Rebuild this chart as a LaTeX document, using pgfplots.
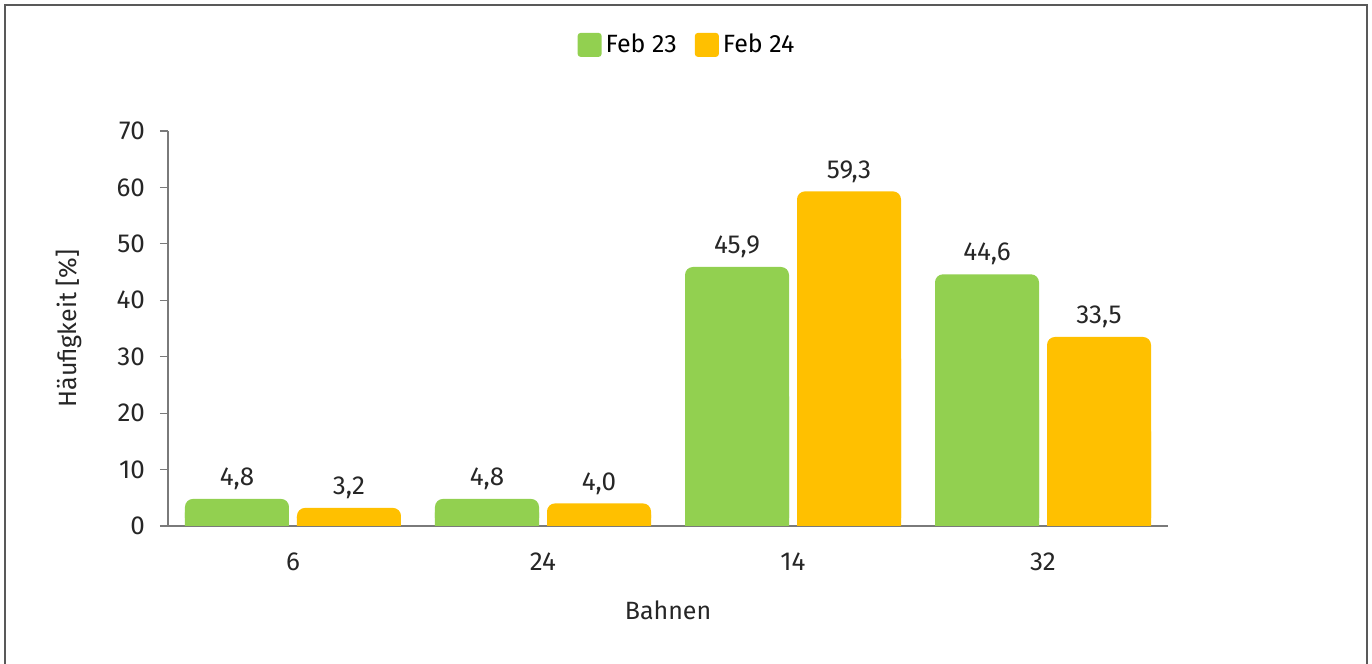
\documentclass[border=0pt]{standalone}
\usepackage{pgfplots}
\pgfplotsset{compat=1.18}
\usepackage{pgfplotstable}
\usepackage{fontspec}
\setmainfont{Fira Sans}
\definecolor{cgreen}{HTML}{92D050}
\definecolor{corange}{HTML}{FFC000}
\definecolor{caxis}{HTML}{7A7A7A}
\pgfplotstableread{
x v
0 4.8
1 4.8
2 45.9
3 44.6
}\febA
\pgfplotstableread{
x v
0 3.2
1 4.0
2 59.3
3 33.5
}\febB
\begin{document}
\begin{tikzpicture}
\useasboundingbox (-84pt,-69pt) rectangle (602pt,263pt);
\draw[color=black!65, line width=1pt] (-81.5pt,-80pt) -- (-81.5pt,260.5pt) -- (599.25pt,260.5pt) -- (599.25pt,-80pt);
\begin{axis}[
  at={(0,0)}, anchor=south west,
  scale only axis, width=500pt, height=197.5pt,
  ybar,
  xmin=-0.5, xmax=3.5, ymin=0, ymax=70,
  axis x line*=bottom, axis y line*=left,
  axis line style={caxis, line width=0.6pt},
  xtick={0,1,2,3}, xticklabels={6,24,14,32},
  extra x ticks={-0.5,0.5,1.5,2.5,3.5}, extra x tick labels={},
  extra x tick style={major tick length=8pt, tick align=outside, tick style={caxis, line width=0.6pt}},
  xtick style={draw=none},
  ytick={0,10,...,70},
  ytick style={caxis, line width=0.6pt},
  major tick length=4pt, tick align=outside,
  /pgf/number format/assume math mode=true,
  tick label style={font=\fontsize{13}{15}\selectfont, text=black!85},
  yticklabel style={xshift=-4pt},
  xticklabel style={yshift=-6pt},
  xlabel={Bahnen}, ylabel={Häufigkeit [\%]},
  label style={font=\fontsize{12.5}{15}\selectfont, text=black!85},
  xlabel style={yshift=4pt},
  ylabel style={yshift=10.5pt},
  bar width=0.416,
  clip=false,
  legend style={at={(0.52,1.218)}, anchor=center, draw=none, fill=none,
    font=\fontsize{12.5}{15}\selectfont, legend columns=2,
    /tikz/every even column/.append style={column sep=7pt}},
  legend image code/.code={\fill[#1, rounded corners=1.5pt] (0pt,-6pt) rectangle (12pt,6pt);},
]
\addplot[bar shift=-0.224, fill=cgreen, draw=none, rounded corners=4pt,
  nodes near coords, nodes near coords style={font=\fontsize{13}{15}\selectfont, text=black!85, yshift=1pt,
  /pgf/number format/.cd, use comma, fixed, fixed zerofill, precision=1, assume math mode=true}] table[x=x,y=v] {\febA};
\addlegendentry{Feb 23}
\addplot[bar shift=0.224, fill=corange, draw=none, rounded corners=4pt,
  nodes near coords, nodes near coords style={font=\fontsize{13}{15}\selectfont, text=black!85, yshift=1pt,
  /pgf/number format/.cd, use comma, fixed, fixed zerofill, precision=1, assume math mode=true}] table[x=x,y=v] {\febB};
\addlegendentry{Feb 24}
\addplot[bar shift=-0.224, fill=cgreen, draw=none, forget plot] table[x=x,y expr=\thisrow{v}*0.5] {\febA};
\addplot[bar shift=0.224, fill=corange, draw=none, forget plot] table[x=x,y expr=\thisrow{v}*0.5] {\febB};
\end{axis}
\end{tikzpicture}
\end{document}
